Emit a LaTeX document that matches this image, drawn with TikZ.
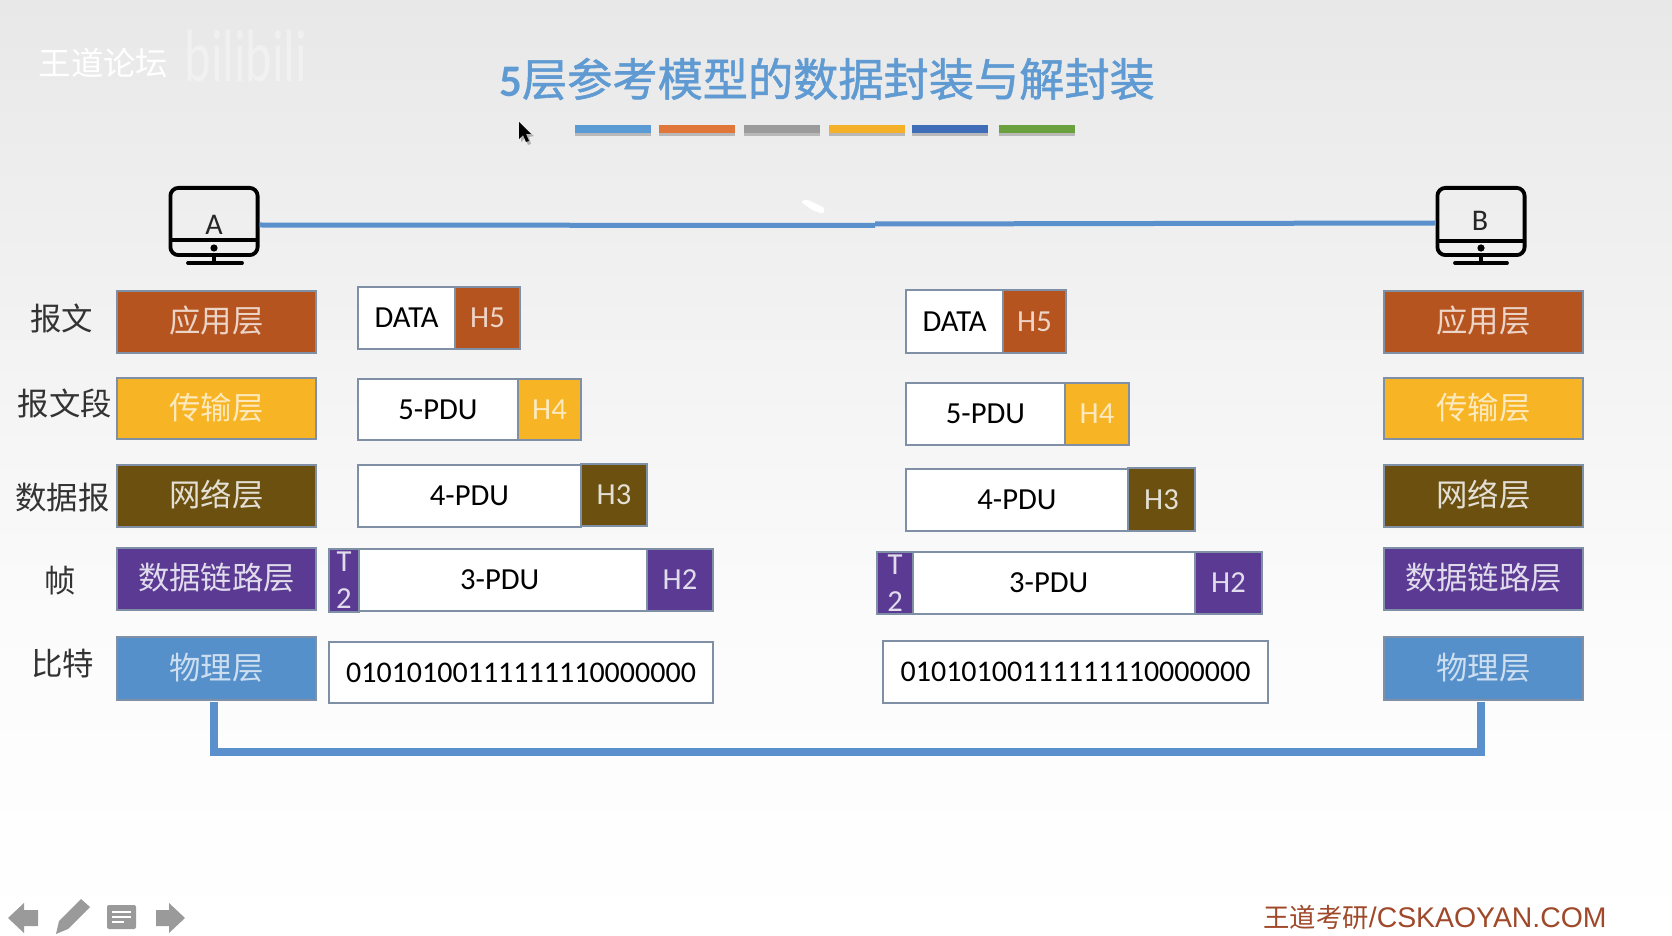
\documentclass[tikz,border=0pt]{standalone}
\usepackage{fontspec}
\setmainfont{Carlito}
\newfontfamily\cjk{Noto Sans CJK SC}
\newfontfamily\cjktitle[FakeBold=1.2]{Noto Sans CJK SC}
\newfontfamily\arial{Liberation Sans}
\usetikzlibrary{calc}
\definecolor{cApp}{HTML}{B5541F}
\definecolor{cTrn}{HTML}{F7B525}
\definecolor{cNet}{HTML}{6B5010}
\definecolor{cLnk}{HTML}{5B3A93}
\definecolor{cPhy}{HTML}{5590CB}
\definecolor{cEdge}{HTML}{7F90A6}
\definecolor{cLine}{HTML}{5A90CB}
\definecolor{cTitle}{HTML}{5F9BD2}
\definecolor{cIcon}{HTML}{9A9A9A}
\definecolor{cFoot}{HTML}{A0492A}
\tikzset{
  boxbase/.style={draw=cEdge,line width=.55pt,inner sep=0pt,outer sep=0pt,anchor=north west},
  layerfont/.style={font=\cjk\fontsize{15.7}{18}\selectfont,text height=14pt,text depth=3.4pt},
  latinfont/.style={font=\fontsize{15.3}{18.5}\selectfont},
  bitfont/.style={font=\fontsize{15}{18.5}\selectfont},
  pdubox/.style={boxbase,fill=white,text=black,latinfont},
  appbox/.style={boxbase,fill=cApp,text=cApp!25!white},
  trnbox/.style={boxbase,fill=cTrn,text=cTrn!30!white},
  netbox/.style={boxbase,fill=cNet,text=cNet!18!white},
  lnkbox/.style={boxbase,fill=cLnk,text=cLnk!18!white},
  phybox/.style={boxbase,fill=cPhy,text=cPhy!30!white},
  sidelabel/.style={font=\cjk\fontsize{15.7}{18}\selectfont,text=black!80,inner sep=0pt},
  screenbox/.style={draw=black,line width=1.9pt,rounded corners=4pt,inner sep=0pt,outer sep=0pt,minimum width=43.6pt,minimum height=33.6pt},
  iconline/.style={draw=black,line width=1.9pt},
  pclabel/.style={font=\fontsize{15}{18}\selectfont,text=black!85,inner sep=0pt},
  linkline/.style={draw=cLine,line width=2.5pt},
  busline/.style={draw=cLine,line width=4pt},
  navicon/.style={fill=cIcon,draw=none},
}
\newcommand{\bx}[7]{\node[#1,minimum width={(#5-#3)*0.5pt},minimum height={(#6-#4)*0.5pt}] (#2) at (#3,#4) {#7};}
\newcommand{\cbar}[3]{\definecolor{tmpbar}{HTML}{#3}\fill[black,opacity=.22] (#1,127) rectangle (#2,136);\fill[tmpbar] (#1,125) rectangle (#2,133);}
\begin{document}
\begin{tikzpicture}[x=0.5pt,y=-0.5pt]
\useasboundingbox (0,0) rectangle (1672,936);
% background
\shade[top color=black!9,bottom color=black!1.5] (0,0) rectangle (1672,620);
\shade[top color=black!1.5,bottom color=white] (0,620) rectangle (1672,936);
% watermark
\node[font=\cjk\fontsize{16.2}{18}\selectfont,text=white,inner sep=0pt] (wm) at (103.5,63) {王道论坛};
\node[font=\fontsize{37}{40}\selectfont,text=white,opacity=.35,xscale=.68,inner sep=0pt] (bili) at (246,56) {bilibili};
% title
\node[font=\bfseries\fontsize{22.6}{26}\selectfont,text=cTitle,inner sep=0pt] (title) at (827,79) {5{\cjktitle\mdseries 层参考模型的数据封装与解封装}};
% colour bars
\cbar{575}{651}{5B9BD5}
\cbar{659}{735}{E0763A}
\cbar{744}{820}{9B9B9B}
\cbar{829}{905}{F5B02A}
\cbar{912}{988}{3F6DB8}
\cbar{999}{1075}{6BA03F}
% cursor and mark
\fill[black!30] (521,125) -- (521,142) -- (525,138) -- (528,145) -- (531,144) -- (529,137) -- (534,136) -- cycle;
\fill[black] (519,122) -- (519,139) -- (523,135) -- (526,142) -- (529,141) -- (526,134) -- (531,134) -- cycle;
\fill[white,rounded corners=1pt] (801,202) -- (806,199) -- (825,208) -- (823,214) -- (812,210) -- cycle;
% computers
\node[screenbox] (pcA) at (214,221.5) {};
\draw[iconline] (pcA.west |- 0,240) -- (pcA.east |- 0,240);
\fill[black] (214,248) circle (1.8pt);
\draw[iconline] (pcA.south) -- (214,263);
\draw[iconline,line cap=round] (188,263) -- (242,263);
\node[pclabel] (labA) at (214,225) {A};
\node[screenbox] (pcB) at (1481,221.5) {};
\draw[iconline] (pcB.west |- 0,241) -- (pcB.east |- 0,241);
\fill[black] (1481,248) circle (1.8pt);
\draw[iconline] (pcB.south) -- (1481,263);
\draw[iconline,line cap=round] (1455,263) -- (1507,263);
\node[pclabel] (labB) at (1480,221) {B};
% host link
\coordinate (brkL) at (875,225.5);
\coordinate (brkR) at (875,224);
\draw[linkline] ([yshift=-1.75pt,xshift=1pt]pcA.east) -- (brkL);
\draw[linkline] (brkR) -- ([yshift=-.75pt,xshift=-1pt]pcB.west);
% left layers
\bx{appbox,layerfont}{appA}{117}{291}{316}{353}{应用层}
\bx{trnbox,layerfont}{trnA}{117}{378}{316}{439}{传输层}
\bx{netbox,layerfont}{netA}{117}{465}{316}{527}{网络层}
\bx{lnkbox,layerfont}{lnkA}{117}{548}{316}{610}{数据链路层}
\bx{phybox,layerfont}{phyA}{117}{637}{316}{700}{物理层}
% right layers
\bx{appbox,layerfont}{appB}{1384}{291}{1583}{353}{应用层}
\bx{trnbox,layerfont}{trnB}{1384}{378}{1583}{439}{传输层}
\bx{netbox,layerfont}{netB}{1384}{465}{1583}{527}{网络层}
\bx{lnkbox,layerfont}{lnkB}{1384}{548}{1583}{610}{数据链路层}
\bx{phybox,layerfont}{phyB}{1384}{637}{1583}{700}{物理层}
% bus
\draw[busline] ([xshift=-1.5pt,yshift=-1pt]phyA.south) -- ++(0,50) -| ([xshift=-1.5pt,yshift=-1pt]phyB.south);
% side labels
\node[sidelabel] (l1) at (62,318) {报文};
\node[sidelabel] (l2) at (65,404) {报文段};
\node[sidelabel] (l3) at (62.5,498) {数据报};
\node[sidelabel] (l4) at (60,581) {帧};
\node[sidelabel] (l5) at (63,664) {比特};
% left PDUs
\bx{pdubox}{dA}{358}{287}{455}{349}{DATA}
\bx{appbox,latinfont}{h5A}{455}{287}{520}{349}{H5}
\bx{pdubox}{p5A}{358}{379}{518}{440}{5-PDU}
\bx{trnbox,latinfont}{h4A}{518}{379}{581}{440}{H4}
\bx{pdubox}{p4A}{358}{465}{581}{527}{4-PDU}
\bx{netbox,latinfont}{h3A}{581}{464}{647}{526}{H3}
\bx{pdubox}{p3A}{359}{549}{647}{611}{3-PDU\hspace*{3.2pt}}
\bx{lnkbox,latinfont,align=center}{t2A}{329}{549}{359}{612}{T\\2}
\bx{lnkbox,latinfont}{h2A}{647}{549}{713}{611}{H2}
\bx{pdubox,bitfont}{bitA}{329}{642}{713}{703}{01010100111111110000000}
% right PDUs
\bx{pdubox}{dB}{906}{290}{1003}{353}{DATA}
\bx{appbox,latinfont}{h5B}{1003}{290}{1066}{353}{H5}
\bx{pdubox}{p5B}{906}{383}{1065}{445}{5-PDU}
\bx{trnbox,latinfont}{h4B}{1065}{383}{1129}{445}{H4}
\bx{pdubox}{p4B}{906}{469}{1128}{531}{4-PDU}
\bx{netbox,latinfont}{h3B}{1128}{468}{1195}{531}{H3}
\bx{pdubox}{p3B}{913}{552}{1195}{614}{3-PDU\hspace*{5.3pt}}
\bx{lnkbox,latinfont,align=center}{t2B}{877}{552}{913}{614}{T\\2}
\bx{lnkbox,latinfont}{h2B}{1195}{552}{1262}{614}{H2}
\bx{pdubox,bitfont}{bitB}{883}{641}{1268}{703}{01010100111111110000000}
% navigation icons
\fill[navicon] (8,918) -- (24,903) -- (24,910) -- (38,910) -- (38,926) -- (24,926) -- (24,933) -- cycle;
\fill[navicon] (56,934) -- (59,921) -- (81,899) -- (90,907) -- (68,929) -- cycle;
\fill[navicon,rounded corners=1pt] (107,905) rectangle (136,929);
\draw[white,line width=.8pt] (112,912) -- (131,912) (112,917) -- (131,917) (112,922) -- (124,922);
\fill[navicon] (185,918) -- (169,903) -- (169,910) -- (156,910) -- (156,926) -- (169,926) -- (169,933) -- cycle;
% footer
\node[text=cFoot,inner sep=0pt,anchor=east] (foot) at (1607,917) {{\cjk\fontsize{13.2}{16}\selectfont 王道考研}{\arial\fontsize{14.2}{16}\selectfont /CSKAOYAN.COM}};
\end{tikzpicture}
\end{document}
